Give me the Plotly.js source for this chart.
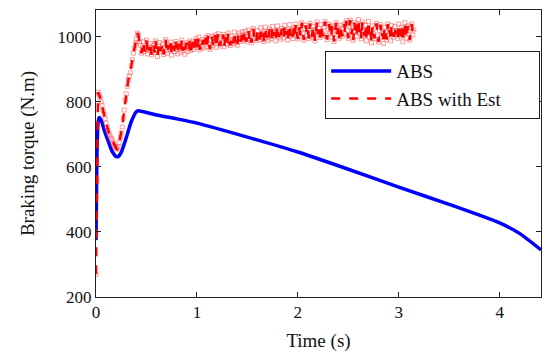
<!DOCTYPE html>
<html>
<head>
<meta charset="utf-8">
<script src="https://cdn.plot.ly/plotly-3.0.1.min.js"></script>
<style>html,body{margin:0;padding:0;background:#fff;}#chart{width:542px;height:354px;}</style>
</head>
<body>
<div id="chart"></div>
<script>
// ABS (blue solid line)
const absTime = [0, 0.005, 0.01, 0.02, 0.03, 0.05, 0.08, 0.12, 0.16, 0.2, 0.22, 0.25, 0.3, 0.35, 0.4, 0.42, 0.6, 0.8, 1.0, 1.5, 2.0, 2.5, 3.0, 3.5, 4.0, 4.2, 4.41];
const absTorque = [375, 520, 650, 735, 752, 745, 715, 680, 648, 632, 632, 645, 690, 740, 770, 773, 760, 748, 735, 692, 646, 593, 538, 485, 428, 395, 345];

// ABS with Est (red dashed, sampled every 0.01 s starting at 0 s)
const estStart = 0;
const estStep = 0.01;
const estTorque = [
  // 0.00 - 0.43 s
  270, 560, 830, 822, 815, 800, 790, 775, 762, 748, 735, 723, 712, 702, 695, 688, 683, 675, 668, 662,
  658, 655, 662, 675, 690, 705, 723, 750, 775, 806, 825, 848, 868, 880, 890, 912, 930, 950, 965, 981,
  995, 1012, 1005, 985,
  // 0.44 - 0.95 s
  975, 950, 968, 985, 955, 962, 990, 948, 970, 958, 980, 945, 966, 975, 952, 988, 960, 940, 972, 983,
  956, 964, 978, 946, 969, 992, 958, 950, 976, 962, 984, 944, 967, 973, 955, 986, 961, 948, 979, 966,
  953, 990, 958, 970, 947, 975, 982, 955, 964, 988, 959, 972,
  // 0.96 - 1.45 s
  985, 962, 978, 995, 968, 980, 1000, 960, 983, 972, 992, 966, 985, 998, 970, 1004, 978, 962, 990, 1002,
  975, 986, 1006, 968, 991, 1010, 980, 972, 996, 985, 1008, 970, 992, 1000, 978, 1012, 986, 974, 1002, 993,
  980, 1015, 984, 996, 975, 1005, 1012, 986, 994, 1016,
  // 1.46 - 1.95 s
  990, 1008, 1018, 985, 1002, 1022, 994, 1010, 982, 1015, 1026, 996, 1004, 988, 1020, 1008, 992, 1028, 1000, 1012,
  986, 1018, 1030, 998, 1006, 990, 1024, 1012, 995, 1032, 1004, 1014, 988, 1020, 1034, 1000, 1010, 993, 1026, 1016,
  997, 1036, 1006, 1018, 990, 1024, 1038, 1003, 1012, 995,
  // 1.96 - 2.45 s
  1028, 1005, 1040, 1012, 994, 1030, 1018, 1002, 1044, 1010, 990, 1026, 1036, 1004, 1020, 995, 1042, 1014, 1000, 1032,
  1022, 988, 1016, 1046, 1008, 1026, 998, 1038, 1012, 1003, 1030, 1048, 1006, 992, 1024, 1040, 1010, 1000, 1034, 1018,
  986, 1022, 1044, 1008, 1028, 996, 1036, 1014, 1002, 1026,
  // 2.46 - 2.95 s
  1040, 1010, 1050, 1020, 996, 1034, 1052, 1008, 1026, 990, 1044, 1016, 1002, 1038, 1054, 1012, 1030, 994, 1046, 1020,
  1004, 1036, 988, 1024, 1048, 1000, 1018, 982, 1034, 1010, 995, 1028, 1042, 1004, 984, 1020, 1038, 998, 1012, 980,
  1030, 1016, 992, 1040, 1006, 1022, 988, 1036, 1012, 1000,
  // 2.96 - 3.15 s
  1032, 1008, 1020, 996, 1040, 1014, 1002, 1030, 985, 1024, 1044, 1010, 996, 1034, 1018, 990, 1028, 1040, 1006, 1022
];

const xTicks = [0, 1, 2, 3, 4];
const yTicks = [200, 400, 600, 800, 1000];
const seriesNames = ["ABS", "ABS with Est"];

const serif = '"Liberation Serif", "Times New Roman", serif';
const red = "#ff0000";
const pad = "\u00a0\u00a0\u00a0\u00a0\u00a0\u00a0\u00a0";

const traces = [
  {
    name: seriesNames[0],
    x: absTime,
    y: absTorque,
    type: "scatter",
    mode: "lines",
    line: {color: "#0000ff", width: 3.5, shape: "spline", smoothing: 0.6}
  },
  {
    name: seriesNames[1] + " (samples)",
    x0: estStart,
    dx: estStep,
    y: estTorque,
    type: "scatter",
    mode: "markers",
    showlegend: false,
    marker: {symbol: "square-open", size: 4, color: "rgba(255,90,90,0.6)", line: {width: 1, color: "rgba(255,70,70,0.6)"}}
  },
  {
    name: seriesNames[1] + pad,
    x0: estStart,
    dx: estStep,
    y: estTorque,
    type: "scatter",
    mode: "lines",
    line: {color: red, width: 2.5, dash: "dash"}
  }
];

const axisCommon = {
  showgrid: false,
  zeroline: false,
  showline: true,
  linecolor: "#222",
  linewidth: 1,
  mirror: "ticks",
  ticks: "inside",
  ticklen: 5,
  tickcolor: "#222",
  tickfont: {family: serif, size: 17, color: "#111"}
};

const layout = {
  width: 542,
  height: 354,
  margin: {l: 96, r: 1, t: 10, b: 57},
  paper_bgcolor: "#fff",
  plot_bgcolor: "#fff",
  font: {family: serif, color: "#111"},
  showlegend: true,
  legend: {
    x: 0.515, y: 0.857, xanchor: "left", yanchor: "top",
    bgcolor: "#fff", bordercolor: "#222", borderwidth: 1,
    font: {family: serif, size: 19, color: "#111"},
    itemwidth: 60,
    tracegroupgap: 0
  },
  xaxis: Object.assign({}, axisCommon, {
    range: [0, 4.41],
    tickvals: xTicks,
    ticktext: xTicks.map(String),
    title: {text: "Time (s)", font: {family: serif, size: 19, color: "#111"}, standoff: 12}
  }),
  yaxis: Object.assign({}, axisCommon, {
    range: [200, 1083],
    tickvals: yTicks,
    ticktext: yTicks.map(String),
    title: {text: "Braking torque (N.m)", font: {family: serif, size: 19, color: "#111"}, standoff: 17}
  })
};

Plotly.newPlot("chart", traces, layout, {staticPlot: true, displayModeBar: false});
</script>
</body>
</html>
